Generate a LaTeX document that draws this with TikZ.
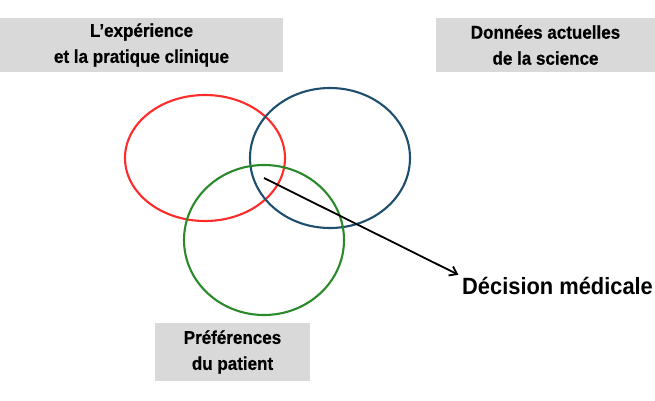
\documentclass[tikz,border=0pt]{standalone}
\usepackage{fontspec}
\newfontfamily\narfont[FakeStretch=0.92,FakeBold=0.6]{Liberation Sans}
\newfontfamily\decfont[FakeStretch=0.93]{Liberation Sans}
\usetikzlibrary{arrows.meta}
\definecolor{boxgray}{HTML}{D9D9D9}
\definecolor{cred}{HTML}{FF2A2A}
\definecolor{cblue}{HTML}{1F4F6F}
\definecolor{cgreen}{HTML}{2A8A2A}
\begin{document}
\begin{tikzpicture}[x=1pt,y=-1pt,
  labelbox/.style={fill=boxgray,draw=none,inner sep=0pt,align=center,
    font=\narfont\bfseries\fontsize{18.5}{26}\selectfont},
  ring/.style={line width=2.1pt}]
\useasboundingbox (0,0) rectangle (655,400);
\node[labelbox,minimum width=283,minimum height=54] (exp) at (141.5,45) {L’expérience\\et la pratique clinique};
\node[labelbox,minimum width=219,minimum height=54] (don) at (545.5,45) {Données actuelles\\de la science};
\node[labelbox,minimum width=155,minimum height=58] (pref) at (232.5,352) {Préférences\\du patient};
\draw[ring,cred] (205,158) ellipse [x radius=80,y radius=63];
\draw[ring,cblue] (330,158) ellipse [x radius=80,y radius=70];
\draw[ring,cgreen] (264,240) ellipse [x radius=80,y radius=75];
\coordinate (start) at (264,178);
\node[anchor=base west,inner sep=0pt,font=\decfont\bfseries\fontsize{23.5}{26}\selectfont] (dec) at (462,294) {Décision médicale};
\draw[line width=1.8pt,shorten >=4pt,-{Straight Barb[length=7pt,width=10pt]}] (start) -- (dec.north west);
\end{tikzpicture}
\end{document}
